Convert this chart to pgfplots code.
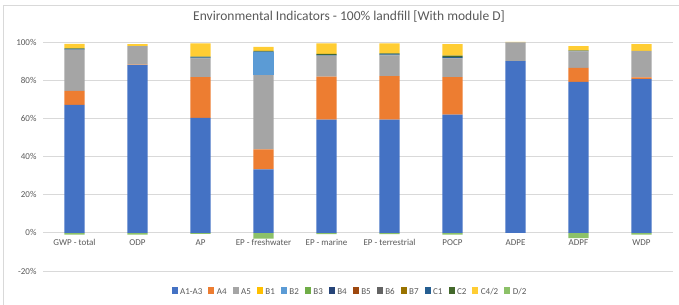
\documentclass[border=0pt]{standalone}
\usepackage{fontspec}
\setmainfont{Carlito}
\usepackage{pgfplots}
\usepackage{pgfplotstable}
\pgfplotsset{compat=1.18}
\definecolor{txt}{HTML}{595959}
\definecolor{gridc}{HTML}{D9D9D9}
\definecolor{cA}{HTML}{4472C4}
\definecolor{cB}{HTML}{ED7D31}
\definecolor{cC}{HTML}{A5A5A5}
\definecolor{cD}{HTML}{FFC000}
\definecolor{cE}{HTML}{5B9BD5}
\definecolor{cF}{HTML}{70AD47}
\definecolor{cG}{HTML}{264478}
\definecolor{cH}{HTML}{9E480E}
\definecolor{cI}{HTML}{636363}
\definecolor{cJ}{HTML}{997300}
\definecolor{cK}{HTML}{255E91}
\definecolor{cL}{HTML}{43682B}
\definecolor{cM}{HTML}{FFCD33}
\definecolor{cN}{HTML}{8CC168}

\pgfplotstableread{
x A13 A4 A5 B1 B2 B3 B4 B5 B6 B7 C1 C2 C4 D
0 67.0 7.4 21.6 0 0 0 0 0 0 0 0.3 0.3 2.4 -1.0
1 87.9 0.2 9.8 0 0 0 0 0 0 0 0 0 1.0 -1.0
2 60.2 21.4 9.8 0 0 0 0 0 0 0 0.5 0.5 6.9 -0.6
3 33.2 10.5 38.9 0 12.0 0 0 0 0 0 0.4 0.4 2.1 -3.0
4 59.3 22.5 11.0 0 0 0 0 0 0 0 0.5 0.5 5.5 -0.7
5 59.3 22.8 10.9 0 0 0 0 0 0 0 0.5 0.5 5.3 -0.7
6 61.9 19.7 9.8 0 0 0 0 0 0 0 0.7 0.7 6.1 -1.0
7 90.0 0 9.8 0 0 0 0 0 0 0 0 0 0.2 0
8 79.1 7.4 8.6 0 0 0 0 0 0 0 0.2 0.2 2.4 -2.8
9 80.5 0.9 14.0 0 0 0 0 0 0 0 0 0 3.5 -1.0
}\data

\begin{document}
\begin{tikzpicture}
\path[use as bounding box] (0bp,0bp) rectangle (679bp,305bp);
\draw[gridc, line width=0.8bp] (3bp,0bp) -- (3bp,300bp) -- (679bp,300bp);
\node[font=\fontsize{13.5bp}{16bp}\selectfont, text=txt] at (349bp,288bp) {Environmental Indicators - 100\% landfill [With module D]};
\begin{axis}[
  at={(43bp,34bp)}, anchor=south west,
  scale only axis, width=630bp, height=229bp,
  xmin=-0.5, xmax=9.5, ymin=-20, ymax=100,
  ybar stacked, bar width=0.32,
  axis line style={draw=none},
  tick style={draw=none},
  ymajorgrids, grid style={gridc, line width=0.8bp},
  ytick={-20,0,20,40,60,80,100},
  yticklabels={-20\%,0\%,20\%,40\%,60\%,80\%,100\%},
  xtick={0,...,9},
  xticklabels={GWP - total,ODP,AP,EP - freshwater,EP - marine,EP - terrestrial,POCP,ADPE,ADPF,WDP},
  xticklabel shift=-35bp,
  yticklabel shift=3bp,
  ticklabel style={font=\fontsize{9bp}{11bp}\selectfont, text=txt},
  every axis plot/.append style={draw=none},
  area legend,
  legend image code/.code={\fill[#1] (0bp,-1.5bp) rectangle (6bp,4.5bp);},
  legend columns=14,
  legend style={at={(349bp-43bp,13bp-34bp)}, anchor=center, draw=none, fill=none,
    font=\fontsize{9bp}{11bp}\selectfont, text=txt,
    nodes={inner xsep=0pt},
    /tikz/every odd column/.style={column sep=2.5bp},
    /tikz/every even column/.style={column sep=6bp}},
]
\addplot[fill=cA] table[x=x,y=A13]{\data};
\addplot[fill=cB] table[x=x,y=A4]{\data};
\addplot[fill=cC] table[x=x,y=A5]{\data};
\addplot[fill=cD] table[x=x,y=B1]{\data};
\addplot[fill=cE] table[x=x,y=B2]{\data};
\addplot[fill=cF] table[x=x,y=B3]{\data};
\addplot[fill=cG] table[x=x,y=B4]{\data};
\addplot[fill=cH] table[x=x,y=B5]{\data};
\addplot[fill=cI] table[x=x,y=B6]{\data};
\addplot[fill=cJ] table[x=x,y=B7]{\data};
\addplot[fill=cK] table[x=x,y=C1]{\data};
\addplot[fill=cL] table[x=x,y=C2]{\data};
\addplot[fill=cM] table[x=x,y=C4]{\data};
\addplot[fill=cN, stack plots=false] table[x=x,y=D]{\data};
\legend{A1-A3,A4,A5,B1,B2,B3,B4,B5,B6,B7,C1,C2,C4/2,D/2}
\end{axis}
\end{tikzpicture}
\end{document}
